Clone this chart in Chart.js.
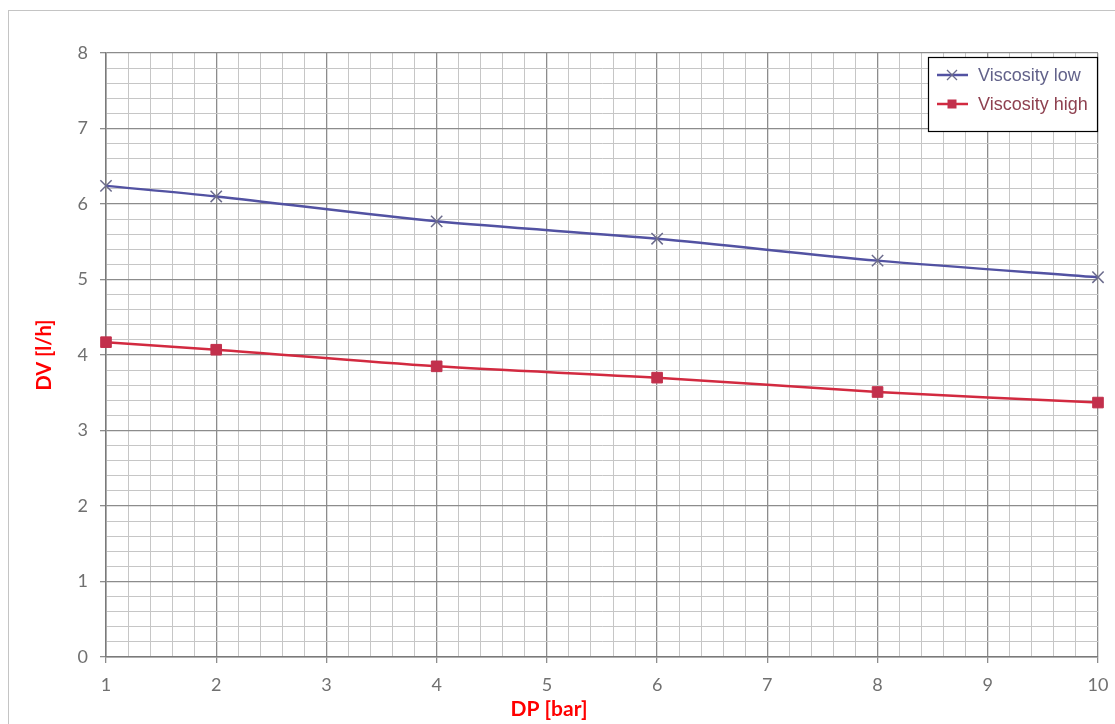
<!DOCTYPE html>
<html>
<head>
<meta charset="utf-8">
<script src="https://cdn.jsdelivr.net/npm/chart.js@4/dist/chart.umd.min.js"></script>
<style>
  html, body { margin: 0; padding: 0; background: #ffffff; }
  #wrap { width: 1115px; height: 724px; position: relative; }
</style>
</head>
<body>
<div id="wrap"><canvas id="c" width="1115" height="724"></canvas></div>
<script>
// ---- data ----
const dpValues = [1, 2, 4, 6, 8, 10];
const viscosityLow = [6.24, 6.10, 5.77, 5.54, 5.25, 5.03];
const viscosityHigh = [4.17, 4.07, 3.85, 3.70, 3.51, 3.37];
const seriesLabels = ['Viscosity low', 'Viscosity high'];
const xTitle = 'DP [bar]';
const yTitle = 'DV [l/h]';

const isMajor = v => Math.abs(v - Math.round(v)) < 1e-6;

const frame = {
  id: 'frame',
  beforeDraw(chart) {
    const ctx = chart.ctx;
    ctx.save();
    ctx.fillStyle = '#ffffff';
    ctx.fillRect(0, 0, chart.width, chart.height);
    ctx.strokeStyle = '#c4c4c4';
    ctx.lineWidth = 1;
    ctx.strokeRect(8.5, 10.5, chart.width + 20, chart.height + 20);
    ctx.restore();
  }
};

const boxLegend = {
  id: 'boxLegend',
  afterDatasetsDraw(chart) {
    const ctx = chart.ctx;
    const a = chart.chartArea;
    const w = 169, h = 74;
    const left = a.right - 1 - w, top = a.top + 4;
    ctx.save();
    ctx.fillStyle = '#ffffff';
    ctx.fillRect(left, top, w, h);
    ctx.strokeStyle = '#000000';
    ctx.lineWidth = 1.2;
    ctx.strokeRect(left + 0.5, top + 0.5, w, h);
    chart.data.datasets.forEach((ds, i) => {
      const y = top + 18 + i * 29;
      ctx.strokeStyle = ds.borderColor;
      ctx.lineWidth = 2.5;
      ctx.beginPath();
      ctx.moveTo(left + 9, y);
      ctx.lineTo(left + 40, y);
      ctx.stroke();
      const cx = left + 24;
      if (ds.pointStyle === 'crossRot') {
        ctx.strokeStyle = ds.pointBorderColor;
        ctx.lineWidth = 1.3;
        const r = 5;
        ctx.beginPath();
        ctx.moveTo(cx - r, y - r); ctx.lineTo(cx + r, y + r);
        ctx.moveTo(cx - r, y + r); ctx.lineTo(cx + r, y - r);
        ctx.stroke();
      } else {
        ctx.fillStyle = ds.pointBackgroundColor;
        ctx.fillRect(cx - 4.5, y - 4.5, 9, 9);
      }
      ctx.fillStyle = ds.legendTextColor;
      ctx.font = '18px "Liberation Sans", Arial, sans-serif';
      ctx.textBaseline = 'middle';
      ctx.textAlign = 'left';
      ctx.fillText(ds.label, left + 50, y + 1);
    });
    ctx.restore();
  }
};

const gridColor = ctx => (ctx.tick && isMajor(ctx.tick.value)) ? '#8c8c8c' : '#c6c6c6';
const gridWidth = ctx => (ctx.tick && isMajor(ctx.tick.value)) ? 1.3 : 1;
const tickMarkColor = ctx => (ctx.tick && isMajor(ctx.tick.value)) ? '#8c8c8c' : 'rgba(0,0,0,0)';
const labelOnlyMajor = v => isMajor(v) ? String(Math.round(v)) : '';

new Chart(document.getElementById('c'), {
  type: 'line',
  data: {
    datasets: [
      {
        label: seriesLabels[0],
        data: dpValues.map((x, i) => ({ x: x, y: viscosityLow[i] })),
        borderColor: '#5252a2',
        borderWidth: 2.5,
        pointStyle: 'crossRot',
        pointRadius: 8,
        pointBorderColor: '#6b6b8c',
        pointBorderWidth: 1.5,
        pointBackgroundColor: '#6b6b8c',
        legendTextColor: '#62628a',
        tension: 0.3,
        clip: false
      },
      {
        label: seriesLabels[1],
        data: dpValues.map((x, i) => ({ x: x, y: viscosityHigh[i] })),
        borderColor: '#d22a40',
        borderWidth: 2.5,
        pointStyle: 'rect',
        pointRadius: 7.5,
        pointBorderColor: '#c2304c',
        pointBorderWidth: 1,
        pointBackgroundColor: '#c2304c',
        legendTextColor: '#8e4150',
        tension: 0.3,
        clip: false
      }
    ]
  },
  options: {
    responsive: false,
    animation: false,
    layout: { padding: { left: 0, top: 53, right: 17, bottom: 0 } },
    plugins: {
      legend: { display: false },
      tooltip: { enabled: false },
      title: {
        display: true,
        position: 'bottom',
        text: xTitle,
        color: '#ff0000',
        font: { family: 'Lato, "Open Sans", sans-serif', size: 21, weight: 'bold' },
        padding: { top: 4, bottom: 2 }
      }
    },
    scales: {
      x: {
        type: 'linear',
        min: 1,
        max: 10,
        ticks: {
          stepSize: 0.2,
          autoSkip: false,
          maxRotation: 0,
          color: '#707070',
          font: { family: 'Lato, "Open Sans", sans-serif', size: 18 },
          padding: 11,
          callback: labelOnlyMajor
        },
        grid: { color: gridColor, lineWidth: gridWidth, tickColor: tickMarkColor, tickLength: 6 },
        border: { color: '#7a7a7a', width: 1.5 },
        afterFit: s => { s.height = 35.8; s.paddingRight = 0; s.paddingLeft = 0; }
      },
      y: {
        type: 'linear',
        min: 0,
        max: 8,
        ticks: {
          stepSize: 0.2,
          autoSkip: false,
          color: '#707070',
          font: { family: 'Lato, "Open Sans", sans-serif', size: 18 },
          padding: 12,
          callback: labelOnlyMajor
        },
        grid: { color: gridColor, lineWidth: gridWidth, tickColor: tickMarkColor, tickLength: 6 },
        border: { color: '#7a7a7a', width: 1.5 },
        title: {
          display: true,
          text: yTitle,
          color: '#ff0000',
          font: { family: 'Lato, "Open Sans", sans-serif', size: 20, weight: 'bold' },
          padding: { top: 33, bottom: 0 }
        },
        afterFit: s => { s.width = 106; s.paddingTop = 0; s.paddingBottom = 0; }
      }
    }
  },
  plugins: [frame, boxLegend]
});
</script>
</body>
</html>
